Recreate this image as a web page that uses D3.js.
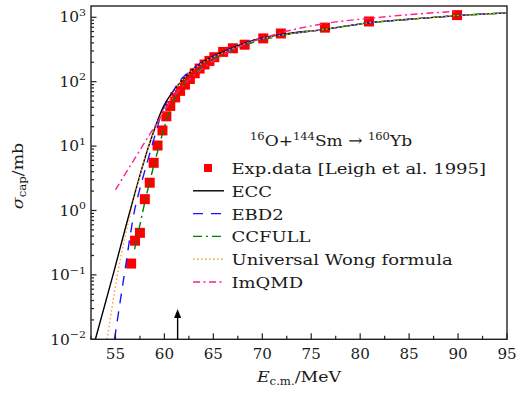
<!DOCTYPE html>
<html>
<head>
<meta charset="utf-8">
<script src="https://cdn.jsdelivr.net/npm/d3@7"></script>
<style>
  body { margin: 0; background: #fff; }
  svg { display: block; }
  text { font-family: "DejaVu Serif", serif; fill: #1a1a1a; }
</style>
</head>
<body>
<svg id="chart" width="517" height="398"></svg>
<script>
// Measured capture cross sections, 16O + 144Sm (Leigh et al. 1995)
const expE     = [56.6, 57.0, 57.5, 58.0, 58.5, 58.9, 59.3, 59.8, 60.2, 60.6, 61.1, 61.6, 62.1, 62.6, 63.1, 63.6, 64.1, 64.6, 65.1, 66.0, 67.0, 68.2, 70.1, 71.9, 76.4, 80.9, 89.9];
const expSigma = [0.15, 0.34, 0.45, 1.5, 2.7, 5.5, 10.2, 17.5, 29, 42, 57, 72, 90, 110, 135, 160, 185, 210, 240, 290, 330, 375, 470, 560, 690, 860, 1080];

// Model curves
const eccE     = [52.95, 54.75, 56.5, 58.4, 59.9, 61.0, 62.0, 63.0, 64.0, 65.0, 66.4, 69.1, 72.0, 76.4, 80.85, 85.0, 89.9, 95.0];
const eccSigma = [0.01, 0.1, 1, 10, 41, 75, 112, 160, 205, 250, 310, 440, 540, 650, 820, 930, 1060, 1170];

const ebd2E     = [54.9, 55.9, 56.95, 57.6, 58.3, 59.0, 59.8, 60.5, 61.5, 62.5, 64.0, 66.4, 69.1, 72.0, 76.4, 80.85, 85.0, 89.9, 95.0];
const ebd2Sigma = [0.01, 0.1, 1, 2.5, 6, 14, 35, 55, 100, 140, 205, 305, 430, 530, 650, 820, 930, 1060, 1170];

const ccfullE     = [56.95, 57.5, 58.0, 58.5, 59.0, 59.5, 60.0, 60.5, 61.0, 61.5, 62.0, 63.0, 64.0, 65.0, 66.4, 69.1, 72.0, 76.4, 80.85, 85.0, 89.9, 95.0];
const ccfullSigma = [0.25, 0.6, 1.35, 2.8, 5.6, 10.5, 20, 33, 52, 72, 92, 130, 175, 220, 285, 410, 520, 650, 820, 930, 1060, 1170];

const wongE     = [54.15, 55.2, 56.6, 57.5, 58.3, 59.1, 59.9, 60.6, 61.5, 62.5, 64.0, 66.4, 69.1, 72.0, 76.4, 80.85, 85.0, 89.9, 95.0];
const wongSigma = [0.01, 0.1, 1, 3.5, 9, 19, 36, 55, 92, 135, 200, 300, 430, 530, 650, 820, 930, 1060, 1170];

const imqmdE     = [55.0, 56.0, 57.0, 58.0, 59.0, 60.0, 61.0, 62.0, 63.0, 64.0, 65.0, 66.4, 68.0, 70.0, 72.0, 76.4, 80.85, 85.0, 90.0];
const imqmdSigma = [2.1, 3.7, 6.5, 11.5, 20, 35, 60, 90, 125, 165, 210, 280, 370, 470, 580, 800, 960, 1100, 1240];

// Coulomb barrier marker
const barrierE = 61.35;

// Axis ticks
const xMajorTicks = [55, 60, 65, 70, 75, 80, 85, 90, 95];
const xMinorTicks = [52.5, 57.5, 62.5, 67.5, 72.5, 77.5, 82.5, 87.5, 92.5];
const yDecades = [-2, -1, 0, 1, 2, 3];

const legendLabels = ["Exp.data [Leigh et al. 1995]", "ECC", "EBD2", "CCFULL", "Universal Wong formula", "ImQMD"];

// ---------------------------------------------------------------------------
const svg = d3.select("#chart");
const plot = { left: 91, right: 507, top: 6, bottom: 339.3 };

const x = d3.scaleLinear().domain([52.5, 95]).range([plot.left, plot.right]);
const y = d3.scaleLog().domain([0.01, Math.pow(10, 3.175)]).range([plot.bottom, plot.top]);

svg.append("defs").append("clipPath").attr("id", "plot-clip")
  .append("rect")
  .attr("x", plot.left).attr("y", plot.top)
  .attr("width", plot.right - plot.left).attr("height", plot.bottom - plot.top);

// text placed in a horizontally stretched frame
function stext(parent, px, py, anchor, size, sx) {
  return parent.append("g")
    .attr("transform", `translate(${px},${py}) scale(${sx},1)`)
    .append("text")
    .attr("text-anchor", anchor)
    .attr("font-size", size);
}

const zip = (a, b) => a.map((v, i) => [v, b[i]]);
const line = d3.line().x(d => x(d[0])).y(d => y(d[1])).curve(d3.curveMonotoneX);

const series = [
  { e: eccE,    s: eccSigma,    color: "#000000", dash: null,           width: 1.4 },
  { e: ebd2E,   s: ebd2Sigma,   color: "#1515ff", dash: "10,8",         width: 1.4 },
  { e: ccfullE, s: ccfullSigma, color: "#008000", dash: "9,4,2,4",      width: 1.4 },
  { e: wongE,   s: wongSigma,   color: "#ff9a3c", dash: "1.5,2.5",      width: 1.4 },
  { e: imqmdE,  s: imqmdSigma,  color: "#ff1f8f", dash: "7,3.5,2,3.5",  width: 1.4 }
];

// Experimental points (drawn under the curves)
const sq = 10;
svg.append("g").attr("clip-path", "url(#plot-clip)")
  .selectAll("rect").data(zip(expE, expSigma)).join("rect")
  .attr("x", d => x(d[0]) - sq / 2)
  .attr("y", d => y(d[1]) - sq / 2)
  .attr("width", sq).attr("height", sq)
  .attr("fill", "#ff0000");

const curves = svg.append("g").attr("clip-path", "url(#plot-clip)");
series.forEach(sr => {
  curves.append("path")
    .attr("d", line(zip(sr.e, sr.s)))
    .attr("fill", "none")
    .attr("stroke", sr.color)
    .attr("stroke-width", sr.width)
    .attr("stroke-dasharray", sr.dash);
});

// Frame
svg.append("rect")
  .attr("x", plot.left).attr("y", plot.top)
  .attr("width", plot.right - plot.left).attr("height", plot.bottom - plot.top)
  .attr("fill", "none").attr("stroke", "#222").attr("stroke-width", 1.4);

// X ticks (pointing inward)
const axisG = svg.append("g").attr("stroke", "#222").attr("stroke-width", 1.2);
xMajorTicks.forEach(t => axisG.append("line")
  .attr("x1", x(t)).attr("x2", x(t)).attr("y1", plot.bottom).attr("y2", plot.bottom - 6));
xMinorTicks.forEach(t => axisG.append("line")
  .attr("x1", x(t)).attr("x2", x(t)).attr("y1", plot.bottom).attr("y2", plot.bottom - 3.5));

// Y ticks: decades and minor log ticks
yDecades.forEach(k => {
  const v = Math.pow(10, k);
  axisG.append("line").attr("x1", plot.left).attr("x2", plot.left + 5.5)
    .attr("y1", y(v)).attr("y2", y(v));
  for (let m = 2; m <= 9; m++) {
    const mv = m * v;
    if (y(mv) < plot.top) break;
    axisG.append("line").attr("x1", plot.left).attr("x2", plot.left + 3)
      .attr("y1", y(mv)).attr("y2", y(mv));
  }
});

// X tick labels
xMajorTicks.forEach(t => {
  stext(svg, x(t), 358.5, "middle", 14, 1.08).text(t);
});

// Y tick labels: 10^k
yDecades.forEach(k => {
  const t = stext(svg, 86, y(Math.pow(10, k)) + 5.2, "end", 14, 1.1);
  t.append("tspan").text("10");
  t.append("tspan").attr("dy", -6.5).attr("font-size", 10)
    .text(k < 0 ? "\u2212" + Math.abs(k) : k);
});

// Axis titles
const xt = stext(svg, 299, 381.5, "middle", 15.5, 1.12);
xt.append("tspan").attr("font-style", "italic").text("E");
xt.append("tspan").attr("font-size", 10.5).attr("dy", 3).text("c.m.");
xt.append("tspan").attr("dy", -3).text("/MeV");

const yt = svg.append("g").attr("transform", "translate(23,176) rotate(-90) scale(1.12,1)")
  .append("text").attr("text-anchor", "middle").attr("font-size", 15.5);
yt.append("tspan").attr("font-style", "italic").text("\u03c3");
yt.append("tspan").attr("font-size", 10.5).attr("dy", 3).text("cap");
yt.append("tspan").attr("dy", -3).text("/mb");

// Reaction label
const title = stext(svg, 250, 145.5, "start", 15.5, 1.1);
title.append("tspan").attr("font-size", 10.5).attr("dy", -6).text("16");
title.append("tspan").attr("dy", 6).text("O+");
title.append("tspan").attr("font-size", 10.5).attr("dy", -6).text("144");
title.append("tspan").attr("dy", 6).text("Sm \u2192 ");
title.append("tspan").attr("font-size", 10.5).attr("dy", -6).text("160");
title.append("tspan").attr("dy", 6).text("Yb");

// Legend
const legY0 = 168, legDy = 22.8;
const legX0 = 193, legX1 = 224, legTextX = 231.5;
legendLabels.forEach((lab, i) => {
  const cy = legY0 + i * legDy;
  if (i === 0) {
    svg.append("rect").attr("x", 208 - 4).attr("y", cy - 4).attr("width", 8).attr("height", 8)
      .attr("fill", "#ff0000");
  } else {
    const sr = series[i - 1];
    svg.append("line").attr("x1", legX0).attr("x2", legX1).attr("y1", cy).attr("y2", cy)
      .attr("stroke", sr.color).attr("stroke-width", sr.width).attr("stroke-dasharray", sr.dash);
  }
  stext(svg, legTextX, cy + 6, "start", 15.5, 1.16).text(lab);
});

// Barrier arrow
const ax = x(barrierE);
svg.append("line").attr("x1", ax).attr("x2", ax).attr("y1", plot.bottom).attr("y2", 316)
  .attr("stroke", "#000").attr("stroke-width", 1.4);
svg.append("path")
  .attr("d", `M${ax},309 L${ax - 3.5},318 L${ax + 3.5},318 Z`)
  .attr("fill", "#000");
</script>
</body>
</html>
